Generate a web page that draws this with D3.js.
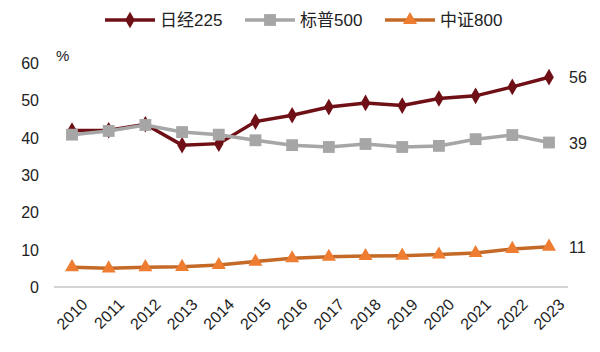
<!DOCTYPE html>
<html>
<head>
<meta charset="utf-8">
<script src="https://cdn.jsdelivr.net/npm/d3@7"></script>
<style>
  body { margin: 0; background: #fff; }
  text { font-family: "Liberation Sans", Arial, "Noto Sans CJK SC", sans-serif; }
</style>
</head>
<body>
<div id="chart"></div>
<script>
// data
const years = ["2010","2011","2012","2013","2014","2015","2016","2017","2018","2019","2020","2021","2022","2023"];
const nikkei = [41.9, 42.0, 43.6, 38.0, 38.4, 44.3, 46.0, 48.2, 49.3, 48.6, 50.5, 51.2, 53.6, 56.2];
const sp500  = [40.8, 41.8, 43.4, 41.5, 40.8, 39.3, 38.0, 37.5, 38.3, 37.5, 37.8, 39.6, 40.7, 38.7];
const csi800 = [5.3, 5.0, 5.3, 5.4, 5.9, 6.8, 7.7, 8.1, 8.3, 8.4, 8.7, 9.1, 10.2, 10.8];
const seriesNames = ["日经225", "标普500", "中证800"];
const endLabels = ["56", "39", "11"];
const yTicks = [0, 10, 20, 30, 40, 50, 60];

let W = 600, H = 352;
let svg = d3.select("#chart").append("svg").attr("width", W).attr("height", H);

let x = d3.scalePoint().domain(years).range([72, 549]);
let y = d3.scaleLinear().domain([0, 60]).range([287, 63]);

let series = [
    {name: seriesNames[0], values: nikkei, line: "#6f1016", fill: "#6f1016", marker: "diamond", label: endLabels[0]},
    {name: seriesNames[1], values: sp500, line: "#a6a6a6", fill: "#a6a6a6", marker: "square", label: endLabels[1]},
    {name: seriesNames[2], values: csi800, line: "#c46a26", fill: "#ee7d31", marker: "triangle", label: endLabels[2]}
];

// zero line
svg.append("line")
    .attr("x1", 54).attr("x2", 568)
    .attr("y1", y(0)).attr("y2", y(0))
    .attr("stroke", "#d4d4d4").attr("stroke-width", 2);

// y axis labels
svg.selectAll(".ytick").data(yTicks).enter().append("text")
    .attr("class", "ytick")
    .attr("x", 39).attr("y", d => y(d) + 6)
    .attr("text-anchor", "end")
    .attr("font-size", 16).attr("fill", "#222")
    .text(d => d);

svg.append("text").attr("x", 56).attr("y", 61)
    .attr("font-size", 15).attr("fill", "#222").text("%");

// x axis labels, rotated
svg.selectAll(".xtick").data(years).enter().append("text")
    .attr("class", "xtick")
    .attr("transform", d => `translate(${x(d) + 8}, 297) rotate(-45)`)
    .attr("text-anchor", "end")
    .attr("dy", "0.75em")
    .attr("font-size", 16).attr("fill", "#222")
    .text(d => d);

function markerPath(type, size) {
    if (type === "diamond") return d3.symbol().type(d3.symbolDiamond).size(size)();
    if (type === "square") return d3.symbol().type(d3.symbolSquare).size(size)();
    return d3.symbol().type(d3.symbolTriangle).size(size)();
}
let markerSize = {diamond: 80, square: 140, triangle: 85};

let line = d3.line().x((d, i) => x(years[i])).y(d => y(d));

series.forEach(s => {
    let g = svg.append("g");
    g.append("path")
        .datum(s.values)
        .attr("d", line)
        .attr("fill", "none")
        .attr("stroke", s.line)
        .attr("stroke-width", 3.5);
    g.selectAll("path.pt").data(s.values).enter().append("path")
        .attr("class", "pt")
        .attr("d", markerPath(s.marker, markerSize[s.marker]))
        .attr("transform", (d, i) => `translate(${x(years[i])}, ${y(d)})`)
        .attr("fill", s.fill);
    g.append("text")
        .attr("x", 569).attr("y", y(s.values[s.values.length - 1]) + 6)
        .attr("font-size", 16).attr("fill", "#222")
        .text(s.label);
});

// legend
let legendX = [105, 245, 385];
series.forEach((s, i) => {
    let lg = svg.append("g").attr("transform", `translate(${legendX[i]}, 20)`);
    lg.append("line").attr("x1", 0).attr("x2", 50).attr("y1", 0).attr("y2", 0)
        .attr("stroke", s.line).attr("stroke-width", 3.5);
    lg.append("path").attr("d", markerPath(s.marker, markerSize[s.marker]))
        .attr("transform", "translate(25,0)").attr("fill", s.fill);
    lg.append("text").attr("x", 55).attr("y", 6)
        .attr("font-size", 17).attr("fill", "#222").text(s.name);
});
</script>
</body>
</html>
